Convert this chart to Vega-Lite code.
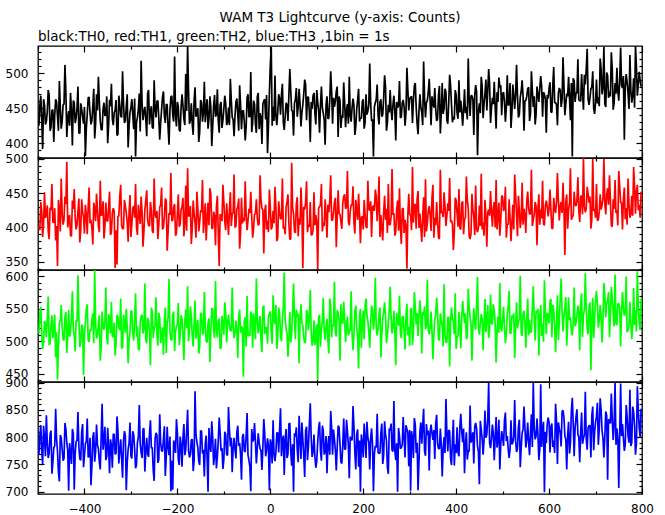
{
"$schema": "https://vega.github.io/schema/vega-lite/v6.json",
"background": "white",
"padding": {"left": 4, "top": 10, "right": 12, "bottom": 0},
"title": {"text": "WAM T3 Lightcurve (y-axis: Counts)", "anchor": "middle", "frame": "group", "offset": 5},
"data": {"values": [
{"t":-498,"a":425,"b":402,"c":512,"d":768},{"t":-494,"a":468,"b":437,"c":553,"d":822},{"t":-490,"a":392,"b":386,"c":488,"d":751},{"t":-486,"a":455,"b":451,"c":531,"d":797},{"t":-482,"a":431,"b":418,"c":506,"d":840},{"t":-478,"a":476,"b":395,"c":569,"d":762},{"t":-474,"a":418,"b":429,"c":497,"d":806},{"t":-470,"a":447,"b":463,"c":540,"d":733},{"t":-466,"a":402,"b":408,"c":519,"d":781},{"t":-462,"a":463,"b":381,"c":475,"d":852},{"t":-458,"a":438,"b":344,"c":441,"d":774},{"t":-454,"a":489,"b":426,"c":528,"d":719},{"t":-450,"a":421,"b":471,"c":556,"d":798},{"t":-446,"a":455,"b":404,"c":503,"d":757},{"t":-442,"a":512,"b":445,"c":537,"d":826},{"t":-438,"a":409,"b":495,"c":482,"d":789},{"t":-434,"a":446,"b":412,"c":548,"d":702},{"t":-430,"a":472,"b":388,"c":514,"d":771},{"t":-426,"a":397,"b":439,"c":577,"d":815},{"t":-422,"a":458,"b":456,"c":509,"d":704},{"t":-418,"a":436,"b":397,"c":533,"d":792},{"t":-414,"a":481,"b":423,"c":602,"d":846},{"t":-410,"a":414,"b":378,"c":491,"d":760},{"t":-406,"a":449,"b":441,"c":525,"d":809},{"t":-402,"a":428,"b":415,"c":448,"d":745},
{"t":-398,"a":382,"b":433,"c":530,"d":788},{"t":-394,"a":441,"b":390,"c":557,"d":834},{"t":-390,"a":466,"b":458,"c":499,"d":766},{"t":-386,"a":427,"b":411,"c":516,"d":712},{"t":-382,"a":453,"b":375,"c":543,"d":800},{"t":-378,"a":407,"b":427,"c":610,"d":755},{"t":-374,"a":470,"b":449,"c":504,"d":823},{"t":-370,"a":495,"b":401,"c":527,"d":779},{"t":-366,"a":432,"b":468,"c":470,"d":741},{"t":-362,"a":419,"b":419,"c":546,"d":861},{"t":-358,"a":458,"b":384,"c":518,"d":793},{"t":-354,"a":441,"b":436,"c":583,"d":758},{"t":-350,"a":400,"b":409,"c":495,"d":817},{"t":-346,"a":462,"b":452,"c":533,"d":734},{"t":-342,"a":485,"b":393,"c":561,"d":785},{"t":-338,"a":426,"b":428,"c":507,"d":806},{"t":-334,"a":447,"b":341,"c":478,"d":769},{"t":-330,"a":411,"b":346,"c":541,"d":838},{"t":-326,"a":468,"b":417,"c":522,"d":752},{"t":-322,"a":439,"b":462,"c":566,"d":796},{"t":-318,"a":503,"b":398,"c":489,"d":726},{"t":-314,"a":429,"b":440,"c":529,"d":811},{"t":-310,"a":452,"b":421,"c":550,"d":703},{"t":-306,"a":394,"b":379,"c":466,"d":778},{"t":-302,"a":444,"b":447,"c":514,"d":827},
{"t":-298,"a":463,"b":405,"c":547,"d":761},{"t":-294,"a":420,"b":431,"c":501,"d":804},{"t":-290,"a":381,"b":463,"c":574,"d":743},{"t":-286,"a":437,"b":389,"c":523,"d":790},{"t":-282,"a":471,"b":418,"c":486,"d":859},{"t":-278,"a":518,"b":445,"c":538,"d":772},{"t":-274,"a":433,"b":372,"c":512,"d":815},{"t":-270,"a":452,"b":426,"c":589,"d":737},{"t":-266,"a":410,"b":454,"c":497,"d":799},{"t":-262,"a":476,"b":403,"c":531,"d":764},{"t":-258,"a":445,"b":437,"c":463,"d":831},{"t":-254,"a":423,"b":395,"c":545,"d":781},{"t":-250,"a":490,"b":471,"c":519,"d":720},{"t":-246,"a":437,"b":414,"c":568,"d":808},{"t":-242,"a":461,"b":383,"c":493,"d":753},{"t":-238,"a":405,"b":429,"c":536,"d":842},{"t":-234,"a":448,"b":458,"c":510,"d":775},{"t":-230,"a":474,"b":400,"c":479,"d":796},{"t":-226,"a":429,"b":442,"c":552,"d":729},{"t":-222,"a":455,"b":366,"c":527,"d":819},{"t":-218,"a":398,"b":421,"c":596,"d":767},{"t":-214,"a":466,"b":479,"c":502,"d":701},{"t":-210,"a":440,"b":410,"c":540,"d":704},{"t":-206,"a":524,"b":434,"c":485,"d":786},{"t":-202,"a":424,"b":392,"c":524,"d":833},
{"t":-198,"a":452,"b":448,"c":559,"d":759},{"t":-194,"a":417,"b":405,"c":508,"d":801},{"t":-190,"a":470,"b":430,"c":534,"d":746},{"t":-186,"a":435,"b":387,"c":471,"d":824},{"t":-182,"a":499,"b":461,"c":549,"d":777},{"t":-178,"a":539,"b":486,"c":585,"d":850},{"t":-174,"a":428,"b":418,"c":515,"d":763},{"t":-170,"a":457,"b":376,"c":538,"d":795},{"t":-166,"a":412,"b":439,"c":492,"d":738},{"t":-162,"a":480,"b":407,"c":563,"d":884},{"t":-158,"a":444,"b":452,"c":520,"d":791},{"t":-154,"a":402,"b":394,"c":481,"d":756},{"t":-150,"a":462,"b":425,"c":544,"d":812},{"t":-146,"a":431,"b":469,"c":511,"d":770},{"t":-142,"a":488,"b":412,"c":576,"d":728},{"t":-138,"a":449,"b":381,"c":500,"d":803},{"t":-134,"a":421,"b":436,"c":529,"d":700},{"t":-130,"a":467,"b":457,"c":468,"d":784},{"t":-126,"a":396,"b":399,"c":551,"d":829},{"t":-122,"a":454,"b":423,"c":517,"d":749},{"t":-118,"a":438,"b":374,"c":593,"d":797},{"t":-114,"a":477,"b":446,"c":506,"d":764},{"t":-110,"a":415,"b":344,"c":535,"d":836},{"t":-106,"a":459,"b":417,"c":489,"d":775},{"t":-102,"a":433,"b":462,"c":527,"d":742},
{"t":-98,"a":468,"b":408,"c":560,"d":810},{"t":-94,"a":426,"b":435,"c":498,"d":768},{"t":-90,"a":451,"b":389,"c":541,"d":855},{"t":-86,"a":492,"b":451,"c":516,"d":783},{"t":-82,"a":437,"b":420,"c":583,"d":736},{"t":-78,"a":410,"b":477,"c":505,"d":799},{"t":-74,"a":459,"b":402,"c":532,"d":761},{"t":-70,"a":441,"b":430,"c":474,"d":821},{"t":-66,"a":483,"b":369,"c":549,"d":789},{"t":-62,"a":420,"b":443,"c":523,"d":722},{"t":-58,"a":447,"b":414,"c":445,"d":806},{"t":-54,"a":404,"b":467,"c":537,"d":773},{"t":-50,"a":465,"b":396,"c":570,"d":844},{"t":-46,"a":438,"b":427,"c":509,"d":758},{"t":-42,"a":502,"b":452,"c":546,"d":701},{"t":-38,"a":429,"b":385,"c":490,"d":792},{"t":-34,"a":456,"b":419,"c":528,"d":826},{"t":-30,"a":415,"b":441,"c":597,"d":752},{"t":-26,"a":472,"b":403,"c":512,"d":807},{"t":-22,"a":443,"b":476,"c":539,"d":779},{"t":-18,"a":399,"b":428,"c":483,"d":740},{"t":-14,"a":461,"b":362,"c":555,"d":833},{"t":-10,"a":434,"b":433,"c":521,"d":765},{"t":-6,"a":386,"b":410,"c":496,"d":798},{"t":-2,"a":471,"b":455,"c":543,"d":703},
{"t":2,"a":538,"b":397,"c":514,"d":787},{"t":6,"a":452,"b":424,"c":571,"d":831},{"t":10,"a":497,"b":459,"c":527,"d":756},{"t":14,"a":426,"b":380,"c":488,"d":808},{"t":18,"a":470,"b":438,"c":552,"d":772},{"t":22,"a":441,"b":412,"c":508,"d":853},{"t":26,"a":485,"b":471,"c":535,"d":794},{"t":30,"a":419,"b":401,"c":606,"d":731},{"t":34,"a":458,"b":429,"c":520,"d":815},{"t":38,"a":432,"b":448,"c":476,"d":769},{"t":42,"a":506,"b":383,"c":545,"d":826},{"t":46,"a":447,"b":494,"c":512,"d":748},{"t":50,"a":411,"b":420,"c":589,"d":700},{"t":54,"a":463,"b":392,"c":503,"d":801},{"t":58,"a":438,"b":444,"c":538,"d":777},{"t":62,"a":478,"b":413,"c":466,"d":839},{"t":66,"a":424,"b":458,"c":557,"d":760},{"t":70,"a":455,"b":341,"c":524,"d":796},{"t":74,"a":491,"b":426,"c":497,"d":727},{"t":78,"a":433,"b":467,"c":548,"d":819},{"t":82,"a":466,"b":404,"c":517,"d":783},{"t":86,"a":402,"b":437,"c":579,"d":862},{"t":90,"a":449,"b":389,"c":493,"d":764},{"t":94,"a":472,"b":451,"c":532,"d":805},{"t":98,"a":427,"b":418,"c":510,"d":744},
{"t":102,"a":459,"b":339,"c":440,"d":791},{"t":106,"a":415,"b":430,"c":541,"d":828},{"t":110,"a":481,"b":463,"c":519,"d":757},{"t":114,"a":443,"b":407,"c":567,"d":813},{"t":118,"a":398,"b":441,"c":502,"d":775},{"t":122,"a":467,"b":385,"c":535,"d":734},{"t":126,"a":436,"b":422,"c":481,"d":802},{"t":130,"a":503,"b":476,"c":553,"d":848},{"t":134,"a":428,"b":411,"c":526,"d":768},{"t":138,"a":452,"b":436,"c":592,"d":797},{"t":142,"a":474,"b":371,"c":507,"d":739},{"t":146,"a":409,"b":454,"c":544,"d":821},{"t":150,"a":461,"b":419,"c":470,"d":786},{"t":154,"a":440,"b":398,"c":530,"d":752},{"t":158,"a":487,"b":445,"c":561,"d":834},{"t":162,"a":423,"b":427,"c":499,"d":778},{"t":166,"a":456,"b":482,"c":538,"d":811},{"t":170,"a":495,"b":403,"c":515,"d":725},{"t":174,"a":431,"b":433,"c":577,"d":795},{"t":178,"a":464,"b":460,"c":486,"d":857},{"t":182,"a":412,"b":391,"c":546,"d":771},{"t":186,"a":449,"b":424,"c":521,"d":806},{"t":190,"a":478,"b":449,"c":458,"d":746},{"t":194,"a":437,"b":377,"c":550,"d":700},{"t":198,"a":459,"b":416,"c":528,"d":789},
{"t":202,"a":421,"b":440,"c":503,"d":825},{"t":206,"a":470,"b":401,"c":566,"d":762},{"t":210,"a":446,"b":468,"c":531,"d":799},{"t":214,"a":514,"b":425,"c":490,"d":741},{"t":218,"a":432,"b":386,"c":555,"d":816},{"t":222,"a":381,"b":432,"c":518,"d":701},{"t":226,"a":458,"b":455,"c":598,"d":784},{"t":230,"a":484,"b":409,"c":509,"d":843},{"t":234,"a":427,"b":474,"c":541,"d":770},{"t":238,"a":463,"b":418,"c":475,"d":808},{"t":242,"a":441,"b":381,"c":536,"d":751},{"t":246,"a":497,"b":446,"c":560,"d":829},{"t":250,"a":418,"b":427,"c":497,"d":793},{"t":254,"a":455,"b":463,"c":528,"d":733},{"t":258,"a":476,"b":404,"c":584,"d":812},{"t":262,"a":433,"b":485,"c":512,"d":776},{"t":266,"a":468,"b":421,"c":547,"d":866},{"t":270,"a":404,"b":393,"c":463,"d":758},{"t":274,"a":451,"b":439,"c":533,"d":700},{"t":278,"a":489,"b":457,"c":570,"d":802},{"t":282,"a":438,"b":376,"c":505,"d":781},{"t":286,"a":462,"b":428,"c":539,"d":837},{"t":290,"a":425,"b":411,"c":487,"d":763},{"t":294,"a":508,"b":340,"c":558,"d":815},{"t":298,"a":447,"b":449,"c":522,"d":747},
{"t":302,"a":466,"b":417,"c":549,"d":702},{"t":306,"a":429,"b":488,"c":494,"d":798},{"t":310,"a":482,"b":432,"c":576,"d":835},{"t":314,"a":451,"b":398,"c":526,"d":771},{"t":318,"a":413,"b":453,"c":508,"d":703},{"t":322,"a":470,"b":420,"c":563,"d":810},{"t":326,"a":444,"b":379,"c":481,"d":788},{"t":330,"a":517,"b":444,"c":540,"d":852},{"t":334,"a":437,"b":470,"c":519,"d":766},{"t":338,"a":461,"b":406,"c":595,"d":804},{"t":342,"a":492,"b":431,"c":511,"d":739},{"t":346,"a":426,"b":395,"c":546,"d":823},{"t":350,"a":458,"b":462,"c":472,"d":795},{"t":354,"a":479,"b":414,"c":534,"d":760},{"t":358,"a":432,"b":437,"c":567,"d":841},{"t":362,"a":469,"b":385,"c":502,"d":779},{"t":366,"a":414,"b":484,"c":543,"d":816},{"t":370,"a":486,"b":423,"c":525,"d":728},{"t":374,"a":450,"b":451,"c":588,"d":800},{"t":378,"a":473,"b":402,"c":498,"d":870},{"t":382,"a":428,"b":435,"c":537,"d":774},{"t":386,"a":498,"b":472,"c":461,"d":811},{"t":390,"a":455,"b":410,"c":552,"d":749},{"t":394,"a":438,"b":367,"c":530,"d":832},{"t":398,"a":476,"b":443,"c":574,"d":787},
{"t":402,"a":443,"b":420,"c":507,"d":818},{"t":406,"a":490,"b":456,"c":545,"d":765},{"t":410,"a":461,"b":397,"c":489,"d":843},{"t":414,"a":425,"b":438,"c":562,"d":791},{"t":418,"a":477,"b":412,"c":528,"d":734},{"t":422,"a":452,"b":474,"c":503,"d":809},{"t":426,"a":521,"b":428,"c":581,"d":776},{"t":430,"a":439,"b":383,"c":536,"d":858},{"t":434,"a":468,"b":449,"c":470,"d":797},{"t":438,"a":412,"b":416,"c":551,"d":752},{"t":442,"a":483,"b":461,"c":518,"d":826},{"t":446,"a":383,"b":393,"c":599,"d":783},{"t":450,"a":457,"b":432,"c":510,"d":714},{"t":454,"a":495,"b":478,"c":542,"d":814},{"t":458,"a":436,"b":407,"c":486,"d":768},{"t":462,"a":471,"b":440,"c":565,"d":849},{"t":466,"a":447,"b":372,"c":531,"d":805},{"t":470,"a":506,"b":426,"c":505,"d":899},{"t":474,"a":429,"b":453,"c":572,"d":780},{"t":478,"a":465,"b":401,"c":526,"d":823},{"t":482,"a":488,"b":437,"c":548,"d":758},{"t":486,"a":421,"b":469,"c":467,"d":837},{"t":490,"a":459,"b":414,"c":538,"d":793},{"t":494,"a":480,"b":388,"c":590,"d":741},{"t":498,"a":440,"b":446,"c":515,"d":811},
{"t":502,"a":473,"b":424,"c":553,"d":784},{"t":506,"a":431,"b":459,"c":497,"d":845},{"t":510,"a":497,"b":405,"c":541,"d":802},{"t":514,"a":456,"b":441,"c":578,"d":762},{"t":518,"a":422,"b":380,"c":512,"d":831},{"t":522,"a":484,"b":433,"c":536,"d":790},{"t":526,"a":449,"b":477,"c":474,"d":868},{"t":530,"a":512,"b":418,"c":560,"d":773},{"t":534,"a":437,"b":446,"c":529,"d":819},{"t":538,"a":466,"b":399,"c":601,"d":745},{"t":542,"a":490,"b":465,"c":508,"d":808},{"t":546,"a":418,"b":427,"c":547,"d":856},{"t":550,"a":461,"b":392,"c":490,"d":781},{"t":554,"a":478,"b":452,"c":566,"d":827},{"t":558,"a":432,"b":419,"c":533,"d":767},{"t":562,"a":503,"b":484,"c":515,"d":842},{"t":566,"a":452,"b":411,"c":585,"d":900},{"t":570,"a":427,"b":437,"c":501,"d":796},{"t":574,"a":481,"b":374,"c":544,"d":834},{"t":578,"a":459,"b":448,"c":478,"d":758},{"t":582,"a":496,"b":426,"c":556,"d":897},{"t":586,"a":438,"b":468,"c":527,"d":812},{"t":590,"a":470,"b":403,"c":594,"d":699},{"t":594,"a":415,"b":439,"c":511,"d":789},{"t":598,"a":464,"b":416,"c":539,"d":836},
{"t":602,"a":487,"b":455,"c":562,"d":772},{"t":606,"a":444,"b":398,"c":506,"d":825},{"t":610,"a":509,"b":443,"c":548,"d":794},{"t":614,"a":458,"b":421,"c":483,"d":861},{"t":618,"a":426,"b":479,"c":571,"d":751},{"t":622,"a":479,"b":410,"c":531,"d":816},{"t":626,"a":452,"b":437,"c":597,"d":783},{"t":630,"a":523,"b":465,"c":515,"d":849},{"t":634,"a":440,"b":360,"c":550,"d":802},{"t":638,"a":471,"b":448,"c":493,"d":741},{"t":642,"a":495,"b":426,"c":568,"d":828},{"t":646,"a":433,"b":486,"c":537,"d":790},{"t":650,"a":381,"b":415,"c":509,"d":872},{"t":654,"a":489,"b":452,"c":583,"d":765},{"t":658,"a":472,"b":431,"c":528,"d":837},{"t":662,"a":520,"b":473,"c":555,"d":806},{"t":666,"a":461,"b":408,"c":486,"d":754},{"t":670,"a":499,"b":446,"c":574,"d":845},{"t":674,"a":448,"b":501,"c":541,"d":798},{"t":678,"a":484,"b":422,"c":605,"d":883},{"t":682,"a":535,"b":459,"c":519,"d":777},{"t":686,"a":455,"b":436,"c":552,"d":821},{"t":690,"a":478,"b":398,"c":455,"d":763},{"t":694,"a":503,"b":500,"c":567,"d":856},{"t":698,"a":442,"b":427,"c":534,"d":809},
{"t":702,"a":491,"b":463,"c":578,"d":838},{"t":706,"a":466,"b":411,"c":521,"d":786},{"t":710,"a":521,"b":448,"c":556,"d":871},{"t":714,"a":470,"b":432,"c":498,"d":812},{"t":718,"a":538,"b":500,"c":590,"d":763},{"t":722,"a":452,"b":419,"c":537,"d":847},{"t":726,"a":497,"b":457,"c":563,"d":722},{"t":730,"a":474,"b":476,"c":506,"d":829},{"t":734,"a":530,"b":403,"c":584,"d":880},{"t":738,"a":448,"b":441,"c":545,"d":795},{"t":742,"a":486,"b":469,"c":603,"d":900},{"t":746,"a":508,"b":425,"c":525,"d":816},{"t":750,"a":461,"b":482,"c":558,"d":707},{"t":754,"a":537,"b":436,"c":492,"d":898},{"t":758,"a":479,"b":397,"c":576,"d":824},{"t":762,"a":405,"b":458,"c":539,"d":775},{"t":766,"a":499,"b":428,"c":600,"d":859},{"t":770,"a":471,"b":471,"c":517,"d":803},{"t":774,"a":526,"b":414,"c":561,"d":887},{"t":778,"a":458,"b":446,"c":503,"d":790},{"t":782,"a":493,"b":488,"c":582,"d":846},{"t":786,"a":539,"b":420,"c":548,"d":768},{"t":790,"a":468,"b":462,"c":608,"d":893},{"t":794,"a":502,"b":433,"c":529,"d":817},{"t":798,"a":481,"b":452,"c":566,"d":852},
{"t":-496,"a":454,"b":396,"c":543,"d":803},{"t":-492,"a":434,"b":423,"c":512,"d":774},{"t":-488,"a":463,"b":405,"c":500,"d":821},{"t":-484,"a":427,"b":414,"c":527,"d":765},{"t":-480,"a":445,"b":432,"c":534,"d":790},{"t":-476,"a":469,"b":383,"c":494,"d":771},{"t":-472,"a":423,"b":425,"c":523,"d":812},{"t":-468,"a":448,"b":407,"c":505,"d":754},{"t":-464,"a":440,"b":428,"c":541,"d":784},{"t":-460,"a":459,"b":402,"c":514,"d":797},{"t":-456,"a":418,"b":440,"c":491,"d":736},{"t":-452,"a":451,"b":394,"c":532,"d":804},{"t":-448,"a":431,"b":421,"c":522,"d":778},{"t":-444,"a":456,"b":411,"c":501,"d":761},{"t":-440,"a":473,"b":434,"c":545,"d":815},{"t":-436,"a":436,"b":400,"c":510,"d":776},{"t":-432,"a":425,"b":418,"c":507,"d":789},{"t":-428,"a":446,"b":387,"c":538,"d":751},{"t":-424,"a":461,"b":427,"c":516,"d":807},{"t":-420,"a":429,"b":415,"c":484,"d":770},{"t":-416,"a":450,"b":404,"c":530,"d":794},{"t":-412,"a":415,"b":442,"c":535,"d":782},{"t":-408,"a":457,"b":397,"c":499,"d":758},{"t":-404,"a":438,"b":423,"c":524,"d":824},{"t":-400,"a":452,"b":391,"c":511,"d":767},
{"t":-396,"a":422,"b":419,"c":549,"d":792},{"t":-392,"a":465,"b":430,"c":502,"d":763},{"t":-388,"a":443,"b":406,"c":518,"d":799},{"t":-384,"a":433,"b":399,"c":533,"d":747},{"t":-380,"a":478,"b":436,"c":497,"d":809},{"t":-376,"a":428,"b":409,"c":528,"d":773},{"t":-372,"a":447,"b":426,"c":509,"d":786},{"t":-368,"a":460,"b":393,"c":540,"d":755},{"t":-364,"a":420,"b":417,"c":490,"d":801},{"t":-360,"a":449,"b":438,"c":521,"d":777},{"t":-356,"a":439,"b":401,"c":531,"d":819},{"t":-352,"a":467,"b":410,"c":506,"d":765},{"t":-348,"a":426,"b":429,"c":542,"d":781},{"t":-344,"a":453,"b":389,"c":512,"d":796},{"t":-340,"a":435,"b":421,"c":507,"d":744},{"t":-336,"a":444,"b":424,"c":529,"d":805},{"t":-332,"a":462,"b":396,"c":497,"d":770},{"t":-328,"a":413,"b":416,"c":537,"d":813},{"t":-324,"a":455,"b":445,"c":517,"d":776},{"t":-320,"a":437,"b":403,"c":490,"d":761},{"t":-316,"a":458,"b":398,"c":541,"d":793},{"t":-312,"a":432,"b":431,"c":513,"d":803},{"t":-308,"a":470,"b":408,"c":522,"d":753},{"t":-304,"a":424,"b":420,"c":501,"d":789},{"t":-300,"a":451,"b":386,"c":546,"d":766},
{"t":-296,"a":441,"b":428,"c":512,"d":811},{"t":-292,"a":464,"b":414,"c":534,"d":778},{"t":-288,"a":430,"b":400,"c":507,"d":750},{"t":-284,"a":448,"b":433,"c":488,"d":800},{"t":-280,"a":417,"b":405,"c":529,"d":788},{"t":-276,"a":457,"b":422,"c":541,"d":762},{"t":-272,"a":445,"b":394,"c":518,"d":816},{"t":-268,"a":434,"b":439,"c":501,"d":773},{"t":-264,"a":472,"b":411,"c":536,"d":769},{"t":-260,"a":427,"b":402,"c":513,"d":807},{"t":-256,"a":453,"b":425,"c":552,"d":780},{"t":-252,"a":421,"b":392,"c":505,"d":740},{"t":-248,"a":449,"b":419,"c":526,"d":797},{"t":-244,"a":460,"b":424,"c":511,"d":804},{"t":-240,"a":436,"b":404,"c":544,"d":759},{"t":-236,"a":429,"b":433,"c":497,"d":790},{"t":-232,"a":466,"b":397,"c":521,"d":774},{"t":-228,"a":439,"b":415,"c":532,"d":820},{"t":-224,"a":456,"b":439,"c":482,"d":763},{"t":-220,"a":423,"b":393,"c":537,"d":782},{"t":-216,"a":447,"b":418,"c":516,"d":801},{"t":-212,"a":468,"b":410,"c":502,"d":757},{"t":-208,"a":431,"b":429,"c":546,"d":794},{"t":-204,"a":440,"b":388,"c":514,"d":771},{"t":-200,"a":459,"b":421,"c":525,"d":809},
{"t":-196,"a":419,"b":401,"c":494,"d":749},{"t":-192,"a":451,"b":426,"c":540,"d":786},{"t":-188,"a":454,"b":443,"c":510,"d":799},{"t":-184,"a":426,"b":406,"c":530,"d":767},{"t":-180,"a":446,"b":395,"c":520,"d":812},{"t":-176,"a":475,"b":416,"c":500,"d":776},{"t":-172,"a":433,"b":431,"c":554,"d":769},{"t":-168,"a":428,"b":399,"c":508,"d":796},{"t":-164,"a":461,"b":420,"c":528,"d":757},{"t":-160,"a":438,"b":385,"c":504,"d":805},{"t":-156,"a":450,"b":427,"c":533,"d":781},{"t":-152,"a":416,"b":408,"c":491,"d":749},{"t":-148,"a":458,"b":422,"c":542,"d":811},{"t":-144,"a":444,"b":392,"c":512,"d":777},{"t":-140,"a":430,"b":435,"c":523,"d":788},{"t":-136,"a":463,"b":413,"c":498,"d":762},{"t":-132,"a":435,"b":403,"c":535,"d":817},{"t":-128,"a":452,"b":448,"c":515,"d":773},{"t":-124,"a":424,"b":398,"c":550,"d":800},{"t":-120,"a":469,"b":417,"c":505,"d":766},{"t":-116,"a":441,"b":430,"c":519,"d":743},{"t":-112,"a":432,"b":390,"c":531,"d":793},{"t":-108,"a":455,"b":419,"c":489,"d":808},{"t":-104,"a":422,"b":409,"c":539,"d":780},{"t":-100,"a":449,"b":437,"c":510,"d":759},
{"t":-96,"a":457,"b":396,"c":545,"d":805},{"t":-92,"a":430,"b":414,"c":529,"d":767},{"t":-88,"a":426,"b":425,"c":525,"d":814},{"t":-84,"a":462,"b":402,"c":516,"d":799},{"t":-80,"a":434,"b":421,"c":524,"d":780},{"t":-76,"a":439,"b":400,"c":512,"d":778},{"t":-72,"a":464,"b":427,"c":518,"d":809},{"t":-68,"a":418,"b":442,"c":537,"d":784},{"t":-64,"a":455,"b":391,"c":513,"d":769},{"t":-60,"a":446,"b":406,"c":520,"d":801},{"t":-56,"a":431,"b":409,"c":530,"d":775},{"t":-52,"a":423,"b":417,"c":492,"d":803},{"t":-48,"a":470,"b":410,"c":508,"d":767},{"t":-44,"a":438,"b":421,"c":509,"d":746},{"t":-40,"a":416,"b":416,"c":539,"d":815},{"t":-36,"a":461,"b":398,"c":543,"d":795},{"t":-32,"a":427,"b":420,"c":503,"d":791},{"t":-28,"a":467,"b":414,"c":534,"d":780},{"t":-24,"a":420,"b":405,"c":529,"d":790},{"t":-20,"a":437,"b":439,"c":501,"d":775},{"t":-16,"a":456,"b":425,"c":552,"d":782},{"t":-12,"a":463,"b":424,"c":511,"d":806},{"t":-8,"a":469,"b":397,"c":521,"d":776},{"t":-4,"a":426,"b":393,"c":537,"d":784},{"t":0,"a":512,"b":429,"c":546,"d":796},
{"t":4,"a":425,"b":401,"c":496,"d":752},{"t":8,"a":432,"b":406,"c":532,"d":770},{"t":12,"a":439,"b":431,"c":556,"d":772},{"t":16,"a":444,"b":385,"c":506,"d":808},{"t":20,"a":464,"b":422,"c":544,"d":814},{"t":24,"a":469,"b":413,"c":500,"d":765},{"t":28,"a":430,"b":398,"c":552,"d":803},{"t":32,"a":438,"b":390,"c":533,"d":796},{"t":36,"a":455,"b":437,"c":512,"d":762},{"t":40,"a":469,"b":405,"c":504,"d":824},{"t":44,"a":475,"b":383,"c":498,"d":774},{"t":48,"a":446,"b":428,"c":545,"d":787},{"t":52,"a":457,"b":394,"c":536,"d":807},{"t":56,"a":479,"b":434,"c":549,"d":818},{"t":60,"a":452,"b":387,"c":542,"d":754},{"t":64,"a":456,"b":404,"c":534,"d":797},{"t":68,"a":444,"b":423,"c":528,"d":827},{"t":72,"a":471,"b":430,"c":506,"d":766},{"t":76,"a":484,"b":436,"c":501,"d":812},{"t":80,"a":466,"b":393,"c":544,"d":758},{"t":84,"a":445,"b":401,"c":535,"d":822},{"t":88,"a":459,"b":389,"c":516,"d":799},{"t":92,"a":468,"b":396,"c":501,"d":773},{"t":96,"a":443,"b":403,"c":494,"d":764},{"t":100,"a":476,"b":408,"c":526,"d":756},
{"t":104,"a":447,"b":428,"c":536,"d":816},{"t":108,"a":454,"b":433,"c":492,"d":775},{"t":112,"a":451,"b":394,"c":530,"d":821},{"t":116,"a":433,"b":402,"c":517,"d":768},{"t":120,"a":455,"b":419,"c":522,"d":802},{"t":124,"a":435,"b":433,"c":501,"d":785},{"t":128,"a":462,"b":439,"c":566,"d":768},{"t":132,"a":474,"b":410,"c":506,"d":818},{"t":136,"a":465,"b":421,"c":523,"d":814},{"t":140,"a":460,"b":443,"c":514,"d":776},{"t":144,"a":481,"b":416,"c":548,"d":781},{"t":148,"a":467,"b":420,"c":532,"d":818},{"t":152,"a":422,"b":408,"c":557,"d":754},{"t":156,"a":436,"b":435,"c":527,"d":787},{"t":160,"a":458,"b":448,"c":533,"d":778},{"t":164,"a":447,"b":430,"c":523,"d":832},{"t":168,"a":428,"b":409,"c":509,"d":785},{"t":172,"a":440,"b":423,"c":518,"d":801},{"t":176,"a":451,"b":432,"c":512,"d":795},{"t":180,"a":454,"b":407,"c":511,"d":821},{"t":184,"a":424,"b":440,"c":555,"d":741},{"t":188,"a":462,"b":411,"c":507,"d":814},{"t":192,"a":431,"b":418,"c":539,"d":794},{"t":196,"a":435,"b":415,"c":490,"d":805},{"t":200,"a":463,"b":397,"c":547,"d":763},
{"t":204,"a":430,"b":419,"c":555,"d":797},{"t":208,"a":441,"b":399,"c":539,"d":828},{"t":212,"a":455,"b":426,"c":515,"d":791},{"t":216,"a":457,"b":438,"c":527,"d":798},{"t":220,"a":434,"b":429,"c":548,"d":786},{"t":224,"a":452,"b":424,"c":535,"d":770},{"t":228,"a":463,"b":445,"c":523,"d":781},{"t":232,"a":440,"b":431,"c":519,"d":772},{"t":236,"a":459,"b":386,"c":552,"d":771},{"t":240,"a":438,"b":400,"c":511,"d":825},{"t":244,"a":465,"b":422,"c":545,"d":767},{"t":248,"a":480,"b":411,"c":540,"d":806},{"t":252,"a":429,"b":392,"c":509,"d":745},{"t":256,"a":444,"b":404,"c":548,"d":816},{"t":260,"a":447,"b":415,"c":536,"d":825},{"t":264,"a":455,"b":418,"c":520,"d":774},{"t":268,"a":448,"b":388,"c":518,"d":776},{"t":272,"a":459,"b":426,"c":544,"d":789},{"t":276,"a":454,"b":395,"c":524,"d":817},{"t":280,"a":436,"b":399,"c":512,"d":779},{"t":284,"a":458,"b":427,"c":537,"d":786},{"t":288,"a":452,"b":392,"c":516,"d":798},{"t":292,"a":443,"b":403,"c":539,"d":822},{"t":296,"a":477,"b":417,"c":509,"d":809},{"t":300,"a":463,"b":419,"c":493,"d":813},
{"t":304,"a":467,"b":396,"c":551,"d":811},{"t":308,"a":461,"b":407,"c":513,"d":762},{"t":312,"a":486,"b":434,"c":553,"d":823},{"t":316,"a":428,"b":442,"c":543,"d":790},{"t":320,"a":446,"b":399,"c":541,"d":755},{"t":324,"a":452,"b":401,"c":539,"d":827},{"t":328,"a":426,"b":416,"c":545,"d":821},{"t":332,"a":464,"b":386,"c":554,"d":774},{"t":336,"a":458,"b":394,"c":524,"d":824},{"t":340,"a":473,"b":424,"c":517,"d":812},{"t":344,"a":460,"b":418,"c":522,"d":809},{"t":348,"a":467,"b":443,"c":516,"d":807},{"t":352,"a":451,"b":385,"c":510,"d":813},{"t":356,"a":448,"b":403,"c":541,"d":825},{"t":360,"a":435,"b":409,"c":545,"d":788},{"t":364,"a":482,"b":383,"c":502,"d":779},{"t":368,"a":444,"b":421,"c":530,"d":786},{"t":372,"a":442,"b":415,"c":492,"d":778},{"t":376,"a":478,"b":430,"c":510,"d":771},{"t":380,"a":433,"b":417,"c":498,"d":809},{"t":384,"a":457,"b":424,"c":537,"d":813},{"t":388,"a":483,"b":408,"c":530,"d":761},{"t":392,"a":430,"b":405,"c":535,"d":796},{"t":396,"a":434,"b":392,"c":511,"d":748},{"t":400,"a":469,"b":439,"c":488,"d":771},
{"t":404,"a":435,"b":401,"c":508,"d":772},{"t":408,"a":444,"b":399,"c":522,"d":819},{"t":412,"a":446,"b":435,"c":537,"d":811},{"t":416,"a":448,"b":390,"c":545,"d":816},{"t":420,"a":443,"b":414,"c":543,"d":788},{"t":424,"a":434,"b":440,"c":507,"d":759},{"t":428,"a":462,"b":387,"c":554,"d":774},{"t":432,"a":468,"b":391,"c":527,"d":790},{"t":436,"a":463,"b":426,"c":525,"d":809},{"t":440,"a":469,"b":389,"c":528,"d":819},{"t":444,"a":474,"b":398,"c":557,"d":816},{"t":448,"a":446,"b":400,"c":521,"d":773},{"t":452,"a":443,"b":402,"c":527,"d":830},{"t":456,"a":482,"b":397,"c":535,"d":797},{"t":460,"a":456,"b":388,"c":528,"d":794},{"t":464,"a":491,"b":416,"c":514,"d":799},{"t":468,"a":474,"b":422,"c":556,"d":834},{"t":472,"a":485,"b":417,"c":519,"d":789},{"t":476,"a":450,"b":423,"c":528,"d":797},{"t":480,"a":456,"b":428,"c":557,"d":807},{"t":484,"a":452,"b":400,"c":526,"d":799},{"t":488,"a":473,"b":397,"c":515,"d":781},{"t":492,"a":494,"b":436,"c":513,"d":832},{"t":496,"a":483,"b":410,"c":522,"d":788},{"t":500,"a":471,"b":445,"c":533,"d":799},
{"t":504,"a":459,"b":428,"c":522,"d":831},{"t":508,"a":452,"b":385,"c":511,"d":793},{"t":512,"a":454,"b":404,"c":554,"d":779},{"t":516,"a":486,"b":414,"c":512,"d":777},{"t":520,"a":444,"b":406,"c":540,"d":787},{"t":524,"a":468,"b":397,"c":543,"d":801},{"t":528,"a":470,"b":448,"c":525,"d":793},{"t":532,"a":467,"b":387,"c":520,"d":779},{"t":536,"a":441,"b":425,"c":535,"d":832},{"t":540,"a":474,"b":413,"c":513,"d":781},{"t":544,"a":468,"b":404,"c":542,"d":814},{"t":548,"a":461,"b":418,"c":530,"d":819},{"t":552,"a":467,"b":438,"c":533,"d":797},{"t":556,"a":480,"b":428,"c":509,"d":790},{"t":560,"a":442,"b":420,"c":513,"d":809},{"t":564,"a":475,"b":402,"c":551,"d":782},{"t":568,"a":467,"b":419,"c":536,"d":817},{"t":572,"a":441,"b":431,"c":547,"d":802},{"t":576,"a":469,"b":426,"c":550,"d":806},{"t":580,"a":479,"b":404,"c":538,"d":777},{"t":584,"a":481,"b":413,"c":508,"d":782},{"t":588,"a":473,"b":405,"c":499,"d":828},{"t":592,"a":463,"b":432,"c":546,"d":810},{"t":596,"a":469,"b":430,"c":544,"d":824},{"t":600,"a":479,"b":427,"c":528,"d":827},
{"t":604,"a":445,"b":425,"c":565,"d":819},{"t":608,"a":483,"b":399,"c":556,"d":782},{"t":612,"a":458,"b":427,"c":523,"d":771},{"t":616,"a":455,"b":437,"c":529,"d":830},{"t":620,"a":471,"b":439,"c":502,"d":827},{"t":624,"a":476,"b":431,"c":566,"d":807},{"t":628,"a":462,"b":421,"c":546,"d":847},{"t":632,"a":482,"b":427,"c":539,"d":836},{"t":636,"a":456,"b":437,"c":568,"d":796},{"t":640,"a":467,"b":398,"c":526,"d":804},{"t":644,"a":464,"b":436,"c":533,"d":770},{"t":648,"a":486,"b":411,"c":516,"d":848},{"t":652,"a":493,"b":418,"c":530,"d":824},{"t":656,"a":459,"b":434,"c":523,"d":816},{"t":660,"a":472,"b":439,"c":540,"d":851},{"t":664,"a":462,"b":425,"c":544,"d":800},{"t":668,"a":460,"b":445,"c":558,"d":808},{"t":672,"a":471,"b":419,"c":506,"d":788},{"t":676,"a":498,"b":430,"c":548,"d":805},{"t":680,"a":506,"b":427,"c":550,"d":796},{"t":684,"a":463,"b":449,"c":511,"d":817},{"t":688,"a":465,"b":445,"c":560,"d":821},{"t":692,"a":480,"b":411,"c":534,"d":839},{"t":696,"a":450,"b":424,"c":505,"d":776},{"t":700,"a":458,"b":414,"c":564,"d":827},
{"t":704,"a":457,"b":410,"c":557,"d":863},{"t":708,"a":453,"b":423,"c":533,"d":815},{"t":712,"a":506,"b":426,"c":538,"d":850},{"t":716,"a":480,"b":442,"c":531,"d":798},{"t":720,"a":456,"b":435,"c":570,"d":802},{"t":724,"a":501,"b":448,"c":558,"d":840},{"t":728,"a":465,"b":433,"c":576,"d":833},{"t":732,"a":467,"b":439,"c":538,"d":825},{"t":736,"a":505,"b":401,"c":566,"d":832},{"t":740,"a":458,"b":427,"c":523,"d":823},{"t":744,"a":471,"b":421,"c":527,"d":786},{"t":748,"a":474,"b":403,"c":558,"d":798},{"t":752,"a":490,"b":461,"c":552,"d":804},{"t":756,"a":483,"b":436,"c":546,"d":802},{"t":760,"a":496,"b":442,"c":551,"d":799},{"t":764,"a":481,"b":412,"c":544,"d":787},{"t":768,"a":487,"b":404,"c":514,"d":837},{"t":772,"a":449,"b":434,"c":523,"d":790},{"t":776,"a":475,"b":419,"c":529,"d":784},{"t":780,"a":469,"b":417,"c":527,"d":856},{"t":784,"a":451,"b":460,"c":525,"d":821},{"t":788,"a":509,"b":452,"c":515,"d":788},{"t":792,"a":484,"b":425,"c":555,"d":849},{"t":796,"a":490,"b":414,"c":517,"d":800}
]},
"spacing": 0,
"bounds": "flush",
"vconcat": [
{"width": 604, "height": 112,
 "title": {"text": "black:TH0, red:TH1, green:TH2, blue:TH3 ,1bin = 1s", "anchor": "start", "frame": "group", "offset": 2},
 "layer": [
  {"mark": {"type": "line", "color": "#000000", "strokeWidth": 1.7, "strokeJoin": "bevel", "clip": true},
   "encoding": {
    "x": {"field": "t", "type": "quantitative", "title": null, "scale": {"domain": [-500, 800], "nice": false, "zero": false},
          "axis": {"orient": "bottom", "values": [-500,-400,-300,-200,-100,0,100,200,300,400,500,600,700,800], "labels": false, "tickSize": {"condition": {"test": "datum.value % 200 === 0", "value": -6}, "value": -3}}},
    "y": {"field": "a", "type": "quantitative", "title": null, "scale": {"domain": [379, 539], "nice": false, "zero": false},
          "axis": {"orient": "left", "values": [380,390,400,410,420,430,440,450,460,470,480,490,500,510,520,530], "labelExpr": "datum.value % 50 === 0 ? datum.label : ''", "labelPadding": 16, "tickSize": {"condition": {"test": "datum.value % 50 === 0", "value": -6}, "value": -3}}}
   }},
  {"mark": {"type": "line", "strokeOpacity": 0, "clip": true},
   "encoding": {
    "x": {"field": "t", "type": "quantitative", "title": null, "axis": {"orient": "top", "values": [-500,-400,-300,-200,-100,0,100,200,300,400,500,600,700,800], "labels": false, "tickSize": {"condition": {"test": "datum.value % 200 === 0", "value": -6}, "value": -3}}},
    "y": {"field": "a", "type": "quantitative", "title": null, "axis": {"orient": "right", "values": [380,390,400,410,420,430,440,450,460,470,480,490,500,510,520,530], "labels": false, "tickSize": {"condition": {"test": "datum.value % 50 === 0", "value": -6}, "value": -3}}}
   }}
 ],
 "resolve": {"axis": {"x": "independent", "y": "independent"}}
},
{"width": 604, "height": 112,
 "layer": [
  {"mark": {"type": "line", "color": "#ff0000", "strokeWidth": 1.7, "strokeJoin": "bevel", "clip": true},
   "encoding": {
    "x": {"field": "t", "type": "quantitative", "title": null, "scale": {"domain": [-500, 800], "nice": false, "zero": false},
          "axis": {"orient": "bottom", "values": [-500,-400,-300,-200,-100,0,100,200,300,400,500,600,700,800], "labels": false, "tickSize": {"condition": {"test": "datum.value % 200 === 0", "value": -6}, "value": -3}}},
    "y": {"field": "b", "type": "quantitative", "title": null, "scale": {"domain": [338, 501], "nice": false, "zero": false},
          "axis": {"orient": "left", "values": [340,350,360,370,380,390,400,410,420,430,440,450,460,470,480,490,500], "labelExpr": "datum.value % 50 === 0 ? datum.label : ''", "labelPadding": 16, "tickSize": {"condition": {"test": "datum.value % 50 === 0", "value": -6}, "value": -3}}}
   }},
  {"mark": {"type": "line", "strokeOpacity": 0, "clip": true},
   "encoding": {
    "x": {"field": "t", "type": "quantitative", "title": null, "axis": {"orient": "top", "values": [-500,-400,-300,-200,-100,0,100,200,300,400,500,600,700,800], "labels": false, "tickSize": {"condition": {"test": "datum.value % 200 === 0", "value": -6}, "value": -3}}},
    "y": {"field": "b", "type": "quantitative", "title": null, "axis": {"orient": "right", "values": [340,350,360,370,380,390,400,410,420,430,440,450,460,470,480,490,500], "labels": false, "tickSize": {"condition": {"test": "datum.value % 50 === 0", "value": -6}, "value": -3}}}
   }}
 ],
 "resolve": {"axis": {"x": "independent", "y": "independent"}}
},
{"width": 604, "height": 112,
 "layer": [
  {"mark": {"type": "line", "color": "#00ff00", "strokeWidth": 1.7, "strokeJoin": "bevel", "clip": true},
   "encoding": {
    "x": {"field": "t", "type": "quantitative", "title": null, "scale": {"domain": [-500, 800], "nice": false, "zero": false},
          "axis": {"orient": "bottom", "values": [-500,-400,-300,-200,-100,0,100,200,300,400,500,600,700,800], "labels": false, "tickSize": {"condition": {"test": "datum.value % 200 === 0", "value": -6}, "value": -3}}},
    "y": {"field": "c", "type": "quantitative", "title": null, "scale": {"domain": [437, 610], "nice": false, "zero": false},
          "axis": {"orient": "left", "values": [440,450,460,470,480,490,500,510,520,530,540,550,560,570,580,590,600,610], "labelExpr": "datum.value % 50 === 0 ? datum.label : ''", "labelPadding": 16, "tickSize": {"condition": {"test": "datum.value % 50 === 0", "value": -6}, "value": -3}}}
   }},
  {"mark": {"type": "line", "strokeOpacity": 0, "clip": true},
   "encoding": {
    "x": {"field": "t", "type": "quantitative", "title": null, "axis": {"orient": "top", "values": [-500,-400,-300,-200,-100,0,100,200,300,400,500,600,700,800], "labels": false, "tickSize": {"condition": {"test": "datum.value % 200 === 0", "value": -6}, "value": -3}}},
    "y": {"field": "c", "type": "quantitative", "title": null, "axis": {"orient": "right", "values": [440,450,460,470,480,490,500,510,520,530,540,550,560,570,580,590,600,610], "labels": false, "tickSize": {"condition": {"test": "datum.value % 50 === 0", "value": -6}, "value": -3}}}
   }}
 ],
 "resolve": {"axis": {"x": "independent", "y": "independent"}}
},
{"width": 604, "height": 112,
 "layer": [
  {"mark": {"type": "line", "color": "#0000ff", "strokeWidth": 1.7, "strokeJoin": "bevel", "clip": true},
   "encoding": {
    "x": {"field": "t", "type": "quantitative", "title": null, "scale": {"domain": [-500, 800], "nice": false, "zero": false},
          "axis": {"orient": "bottom", "values": [-500,-400,-300,-200,-100,0,100,200,300,400,500,600,700,800], "labelExpr": "datum.value % 200 === 0 ? datum.label : ''", "labelPadding": 15, "tickSize": {"condition": {"test": "datum.value % 200 === 0", "value": -6}, "value": -3}}},
    "y": {"field": "d", "type": "quantitative", "title": null, "scale": {"domain": [696, 901], "nice": false, "zero": false},
          "axis": {"orient": "left", "values": [700,710,720,730,740,750,760,770,780,790,800,810,820,830,840,850,860,870,880,890,900], "labelExpr": "datum.value % 50 === 0 ? datum.label : ''", "labelPadding": 16, "tickSize": {"condition": {"test": "datum.value % 50 === 0", "value": -6}, "value": -3}}}
   }},
  {"mark": {"type": "line", "strokeOpacity": 0, "clip": true},
   "encoding": {
    "x": {"field": "t", "type": "quantitative", "title": null, "axis": {"orient": "top", "values": [-500,-400,-300,-200,-100,0,100,200,300,400,500,600,700,800], "labels": false, "tickSize": {"condition": {"test": "datum.value % 200 === 0", "value": -6}, "value": -3}}},
    "y": {"field": "d", "type": "quantitative", "title": null, "axis": {"orient": "right", "values": [700,710,720,730,740,750,760,770,780,790,800,810,820,830,840,850,860,870,880,890,900], "labels": false, "tickSize": {"condition": {"test": "datum.value % 50 === 0", "value": -6}, "value": -3}}}
   }}
 ],
 "resolve": {"axis": {"x": "independent", "y": "independent"}}
}
],
"config": {
 "view": {"stroke": "#000000", "strokeWidth": 1.3},
 "title": {"font": "DejaVu Sans", "fontSize": 13.5, "fontWeight": "normal", "color": "#000000"},
 "axis": {"domain": false, "grid": false, "ticks": true, "tickColor": "#000000", "tickWidth": 1.2, "labelFont": "DejaVu Sans", "labelFontSize": 12, "labelColor": "#000000", "labelOverlap": false, "labelFlush": false, "labelBound": false}
}
}
